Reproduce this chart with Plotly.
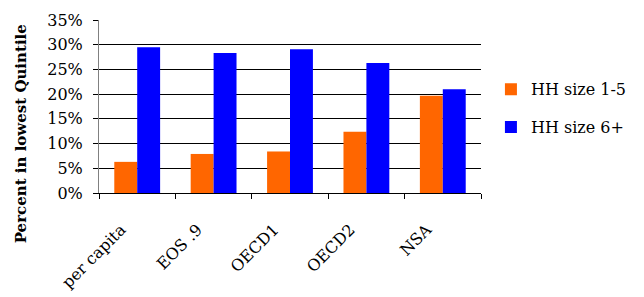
import plotly.graph_objects as go

categories = ["per capita", "EOS .9", "OECD1", "OECD2", "NSA"]
hh_small = [0.063, 0.079, 0.084, 0.124, 0.197]
hh_large = [0.295, 0.283, 0.291, 0.263, 0.210]
series_names = ["HH size 1-5", "HH size 6+"]
colors = ["#FF6600", "#0000FF"]
y_title = "Percent in lowest Quintile"

FONT = "DejaVu Serif, serif"
FS = 16

fig = go.Figure()
fig.add_trace(go.Bar(x=categories, y=hh_small, name=series_names[0],
                     marker=dict(color=colors[0], line=dict(width=0)),
                     legendgroup="a"))
fig.add_trace(go.Bar(x=categories, y=hh_large, name=series_names[1],
                     marker=dict(color=colors[1], line=dict(width=0)),
                     legendgroup="b"))

fig.add_annotation(text="<b>" + y_title + "</b>", xref="paper", yref="paper",
                   x=-0.204, y=0.34, xanchor="center", yanchor="middle",
                   textangle=-90, showarrow=False,
                   font=dict(family=FONT, size=15, color="black"))

fig.update_layout(
    width=636, height=289,
    margin=dict(l=91, r=163, t=12, b=104, autoexpand=False),
    paper_bgcolor="white", plot_bgcolor="white",
    font=dict(family=FONT, size=FS, color="black"),
    barmode="group", bargap=0.4, bargroupgap=0,
    showlegend=True,
    legend=dict(x=1.026, y=0.49, yanchor="middle", xanchor="left",
                font=dict(family=FONT, size=FS),
                traceorder="grouped", tracegroupgap=14,
                bgcolor="rgba(0,0,0,0)"),
    xaxis=dict(showline=True, linecolor="black", linewidth=1,
               ticks="outside", ticklen=5, tickcolor="black",
               tickson="boundaries", tickangle=-45,
               ticklabelstandoff=20, ticklabelshift=-16,
               showgrid=False, tickfont=dict(family=FONT, size=FS)),
    yaxis=dict(range=[0, 0.35], dtick=0.05, tickformat=".0%",
               showgrid=True, gridcolor="black", gridwidth=1,
               showline=True, linecolor="#808080", linewidth=1,
               ticks="outside", ticklen=5, tickcolor="black",
               ticklabelstandoff=7,
               zeroline=False,
               tickfont=dict(family=FONT, size=FS)),
)

fig.write_html("out.html")
